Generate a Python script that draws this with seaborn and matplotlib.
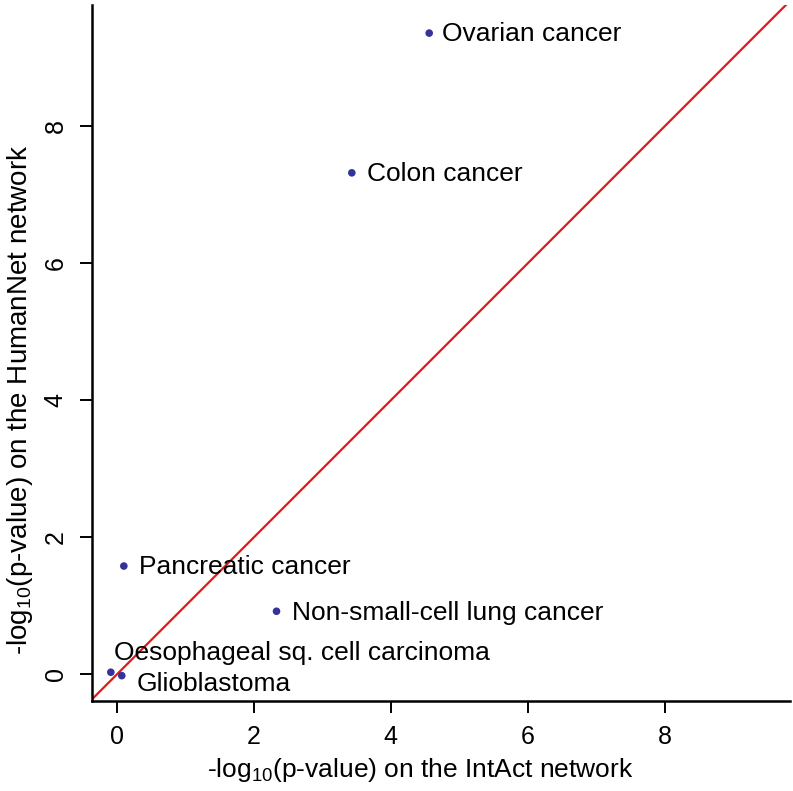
import matplotlib
matplotlib.use("Agg")
import matplotlib.pyplot as plt
import seaborn as sns
import pandas as pd
import numpy as np

diseases = ["Ovarian cancer", "Colon cancer", "Pancreatic cancer",
            "Non-small-cell lung cancer", "Oesophageal sq. cell carcinoma",
            "Glioblastoma"]
intact = [4.56, 3.43, 0.10, 2.33, -0.09, 0.07]
humannet = [9.36, 7.32, 1.58, 0.92, 0.03, -0.02]
ticks = [0, 2, 4, 6, 8]

sns.set_style("ticks")
plt.rcParams["font.family"] = ["Liberation Sans", "DejaVu Sans"]
plt.rcParams["mathtext.fontset"] = "custom"
plt.rcParams["mathtext.rm"] = "Liberation Sans"
plt.rcParams["mathtext.it"] = "Liberation Sans:italic"
plt.rcParams["axes.edgecolor"] = "black"
plt.rcParams["xtick.color"] = "black"
plt.rcParams["ytick.color"] = "black"
plt.rcParams["text.color"] = "black"
plt.rcParams["axes.labelcolor"] = "black"

df = pd.DataFrame({"disease": diseases, "intact": intact, "humannet": humannet})

fig = plt.figure(figsize=(7.93, 7.91), dpi=100)
ax = fig.add_axes([92/793, 90/791, (790-92)/793, (786-90)/791])

lims = (-0.365, 9.83)
ylims = (-0.39, 9.77)
ax.plot([-1, 11], [-1, 11], color="#E3191C", lw=1.6, zorder=1)
sns.scatterplot(data=df, x="intact", y="humannet", ax=ax, color="#333399",
                s=30, edgecolor="none", zorder=3, legend=False)

offsets = {
    "Oesophageal sq. cell carcinoma": (2, 14),
    "Glioblastoma": (11, -6),
    "Ovarian cancer": (9, -1),
}
for d, x, y in zip(diseases, intact, humannet):
    off = offsets.get(d, (11, -1))
    ax.annotate(d, (x, y), xytext=off, textcoords="offset points",
                ha="left", va="center", fontsize=19, color="black")

ax.set_xlim(*lims)
ax.set_ylim(*ylims)
ax.set_xticks(ticks)
ax.set_yticks(ticks)
ax.set_xticklabels([str(t) for t in ticks])
ax.set_yticklabels([str(t) for t in ticks], rotation=90, va="center")
ax.tick_params(axis="both", length=8.6, width=1.4, labelsize=18, direction="out")
ax.tick_params(axis="x", pad=9)
ax.tick_params(axis="y", pad=9)
for s in ["top", "right"]:
    ax.spines[s].set_visible(False)
for s in ["left", "bottom"]:
    ax.spines[s].set_linewidth(1.8)

ax.set_xlabel("-log$_{10}$(p-value) on the IntAct network", fontsize=19)
ax.set_ylabel("-log$_{10}$(p-value) on the HumanNet network", fontsize=20)
ax.xaxis.set_label_coords((420-92)/698, -(756-701)/696)
ax.yaxis.set_label_coords(-(92-5)/698, (701-400)/696)
ax.xaxis.label.set_va("top")
ax.yaxis.label.set_va("top")

fig.savefig("out.png", dpi=100)
